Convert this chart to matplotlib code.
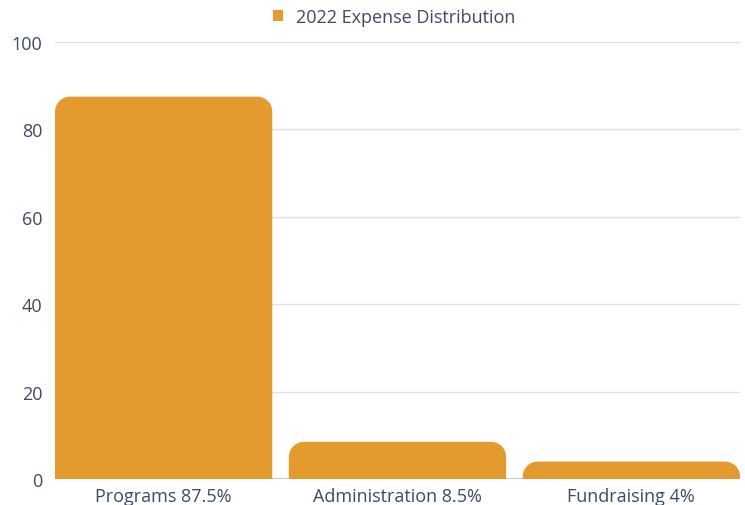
import matplotlib
matplotlib.use("Agg")
import matplotlib.pyplot as plt
from matplotlib.path import Path
from matplotlib.patches import PathPatch, Rectangle
from matplotlib.transforms import IdentityTransform

categories = ["Programs 87.5%", "Administration 8.5%", "Fundraising 4%"]
values = [87.5, 8.5, 4]
series_name = "2022 Expense Distribution"
y_ticks = [0, 20, 40, 60, 80, 100]

bar_color = "#E39B2F"
text_color = "#3F4A63"
font = "Open Sans"

W, H = 745, 506
fig = plt.figure(figsize=(W / 100, H / 100), dpi=100)
ax = fig.add_axes([55 / W, (H - 480) / H, 685 / W, (480 - 43) / H])

bw = 0.929
xs = list(range(len(categories)))
ax.set_xlim(-bw / 2, len(categories) - 1 + bw / 2)
ax.set_ylim(0, 100)
ax.set_yticks(y_ticks)
ax.set_xticks(xs)
ax.set_xticklabels(categories)
for lbl in ax.get_xticklabels() + ax.get_yticklabels():
    lbl.set_fontfamily(font)
    lbl.set_fontsize(13)
    lbl.set_fontweight("medium")
    lbl.set_color(text_color)
ax.tick_params(axis="both", length=0)
ax.tick_params(axis="x", pad=6)
ax.tick_params(axis="y", pad=9)
ax.grid(axis="y", color="#E2E2E2", linewidth=1)
ax.set_axisbelow(True)
for s in ax.spines.values():
    s.set_visible(False)
ax.axhline(0, color="#B8C0CC", linewidth=1.2, zorder=1)

# rounded-top bars drawn in display space
fig.canvas.draw()
k = 0.5523
for x, v in zip(xs, values):
    (x0, y0) = ax.transData.transform((x - bw / 2, 0))
    (x1, y1) = ax.transData.transform((x + bw / 2, v))
    r = min(15, (y1 - y0), (x1 - x0) / 2)
    verts = [
        (x0, y0),
        (x0, y1 - r),
        (x0, y1 - r + k * r), (x0 + r - k * r, y1), (x0 + r, y1),
        (x1 - r, y1),
        (x1 - r + k * r, y1), (x1, y1 - r + k * r), (x1, y1 - r),
        (x1, y0),
        (x0, y0),
    ]
    codes = [Path.MOVETO, Path.LINETO,
             Path.CURVE4, Path.CURVE4, Path.CURVE4,
             Path.LINETO,
             Path.CURVE4, Path.CURVE4, Path.CURVE4,
             Path.LINETO, Path.CLOSEPOLY]
    patch = PathPatch(Path(verts, codes), facecolor=bar_color, edgecolor="none",
                      transform=IdentityTransform(), zorder=3)
    fig.add_artist(patch)

# legend
handle = Rectangle((0, 0), 1, 1, facecolor=bar_color, edgecolor="none")
leg = fig.legend([handle], [series_name], loc="center", bbox_to_anchor=(394 / W, 1 - 18 / H),
                 frameon=False, handlelength=0.6, handleheight=0.6, handletextpad=0.7,
                 prop={"family": font, "size": 13, "weight": "medium"})
for t in leg.get_texts():
    t.set_color(text_color)

fig.savefig("out.png", dpi=100)
